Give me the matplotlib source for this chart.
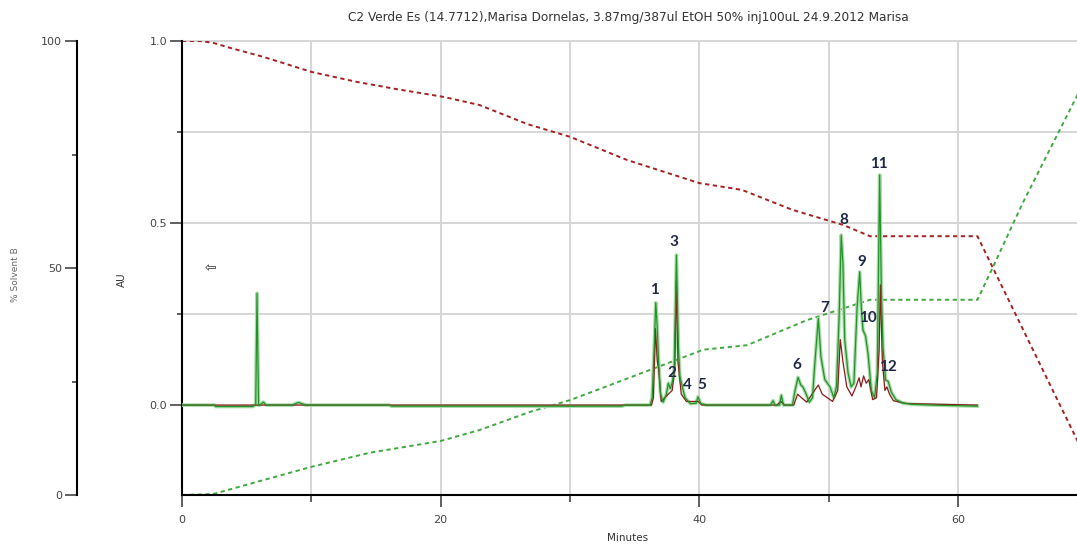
import matplotlib
matplotlib.use("Agg")
import matplotlib.pyplot as plt
from matplotlib.ticker import FixedLocator, FormatStrFormatter

# ---- chromatogram, detector channel 1 (green), minutes / AU ----
green_t = [0.0, 2.5, 2.6, 5.5, 5.6, 5.7, 5.8, 5.92, 6.0, 6.3, 6.5, 8.5, 9.0, 9.6,
           16.0, 16.2, 34.0, 34.3, 36.2, 36.35, 36.5, 36.63, 36.73, 36.85, 37.0,
           37.2, 37.45, 37.6, 37.75, 37.9, 38.05, 38.23, 38.38, 38.5, 38.72, 38.9,
           39.3, 39.75, 39.9, 40.1, 40.6, 45.5, 45.7, 45.85, 46.2, 46.34, 46.5,
           47.2, 47.4, 47.63, 47.85, 48.0, 48.2, 48.5, 48.75, 48.9, 49.2, 49.4,
           49.7, 50.1, 50.4, 50.6, 50.8, 50.97, 51.1, 51.24, 51.5, 51.74, 51.95,
           52.2, 52.4, 52.52, 52.65, 52.85, 53.04, 53.3, 53.55, 53.76, 53.94,
           54.07, 54.2, 54.4, 54.6, 54.85, 55.2, 55.7, 56.5, 58.0, 61.5]
green_au = [0.0, 0.0, -0.004, -0.004, 0.0, 0.0, 0.307, 0.0, 0.0, 0.008, 0.0, 0.0, 0.007, 0.0,
            0.0, -0.003, -0.003, 0.0, 0.0, 0.02, 0.15, 0.281, 0.225, 0.12, 0.03,
            0.008, 0.03, 0.06, 0.045, 0.062, 0.09, 0.412, 0.16, 0.078, 0.045, 0.02,
            0.004, 0.005, 0.023, 0.004, 0.0, 0.0, 0.012, 0.0, 0.0, 0.027, 0.0,
            0.0, 0.04, 0.076, 0.055, 0.05, 0.035, 0.008, 0.02, 0.1, 0.238, 0.133,
            0.07, 0.05, 0.02, 0.05, 0.233, 0.467, 0.39, 0.18, 0.088, 0.05, 0.06,
            0.27, 0.366, 0.27, 0.206, 0.19, 0.142, 0.04, 0.02, 0.088, 0.632,
            0.325, 0.16, 0.069, 0.065, 0.035, 0.015, 0.006, 0.002, 0.0, -0.003]

# ---- chromatogram, detector channel 2 (dark red) ----
red_t = [0.0, 36.3, 36.45, 36.6, 36.75, 36.85, 37.05, 37.6, 37.9, 38.1, 38.22, 38.35,
         38.6, 39.0, 39.9, 40.2, 46.0, 46.3, 46.6, 47.3, 47.6, 47.9, 48.3, 48.9,
         49.2, 49.5, 50.3, 50.7, 50.9, 51.1, 51.4, 51.8, 52.1, 52.35, 52.5, 52.7,
         52.9, 53.1, 53.4, 53.7, 53.9, 54.0, 54.15, 54.35, 54.5, 54.7, 55.0, 56.0,
         61.5]
red_au = [0.0, 0.0, 0.02, 0.21, 0.12, 0.1, 0.01, 0.03, 0.04, 0.1, 0.34, 0.12,
          0.03, 0.01, 0.01, 0.0, 0.0, 0.01, 0.0, 0.0, 0.03, 0.02, 0.008, 0.04,
          0.055, 0.03, 0.01, 0.04, 0.18, 0.12, 0.05, 0.025, 0.05, 0.075, 0.05, 0.08,
          0.06, 0.07, 0.015, 0.02, 0.15, 0.33, 0.12, 0.04, 0.05, 0.03, 0.012, 0.004,
          0.0]

# ---- solvent gradient program (%) ----
solvA_t = [0, 1.4, 2.4, 3.7, 6.3, 10, 13.5, 16.6, 20.2, 23, 26.7, 30, 34.4, 40,
           43.3, 47.2, 51.1, 53.2, 61.5, 69.5]
solvA_pct = [100, 100, 99.6, 98.5, 96.5, 93.2, 91.0, 89.4, 87.7, 85.9, 81.7, 78.9,
             73.8, 68.7, 67.2, 62.8, 59.5, 57.0, 57.0, 10.4]
solvB_t = [0, 2.4, 5.8, 10, 14.5, 20, 23, 26.9, 30, 34.1, 40.3, 43.7, 48.3, 53.2,
           61.5, 62.7, 65.0, 69.5]
solvB_pct = [0, 0.2, 2.9, 6.2, 9.3, 11.9, 14.3, 18.3, 20.9, 25.3, 32.0, 33.0, 38.5,
             43.0, 43.0, 50.2, 64.3, 89.6]

# ---- peak annotations ----
peak_labels = ["1", "2", "3", "4", "5", "6", "7", "8", "9", "10", "11", "12"]
peak_label_t = [36.5, 37.87, 38.0, 39.1, 40.2, 47.5, 49.7, 51.2, 52.55, 53.0, 53.86, 54.56]
peak_label_au = [0.316, 0.088, 0.448, 0.055, 0.055, 0.11, 0.267, 0.508, 0.393, 0.239, 0.662, 0.104]

title = "C2 Verde Es (14.7712),Marisa Dornelas, 3.87mg/387ul EtOH 50% inj100uL 24.9.2012 Marisa"

W, H = 1077, 544
fig = plt.figure(figsize=(W / 100, H / 100), dpi=100)
left, right, bottom, top = 182, 1077, 495, 41
ax = fig.add_axes([left / W, 1 - bottom / H, (right - left) / W, (bottom - top) / H])
ax2 = ax.twinx()
ax.set_zorder(2)
ax2.set_zorder(1)
ax.patch.set_visible(False)

ax.set_xlim(0, 69.2)
ax.set_ylim(-0.247, 1.0)
ax2.set_ylim(0, 100)

tick_col = "#444444"

# grid (drawn on the lower axes so traces sit above it)
grid_col = "#d6d6d6"
for gx in [10, 20, 30, 40, 50, 60]:
    ax2.axvline(gx, color=grid_col, lw=1.4, zorder=0)
for gy in [0.25, 0.5, 0.75, 1.0]:
    ax2.plot([0, 1], [gy, gy], transform=ax.get_yaxis_transform(),
             color=grid_col, lw=1.4, zorder=0, clip_on=False)

# gradient lines
ax2.plot(solvA_t, solvA_pct, color="#a52222", lw=1.4, ls=(0, (2.2, 1.8)), zorder=2)
ax2.plot(solvB_t, solvB_pct, color="#40aa40", lw=1.4, ls=(0, (2.2, 1.8)), zorder=2)

# chromatogram traces
ax.plot(green_t, green_au, color="#a8dca8", lw=2.6, zorder=3)
ax.plot(red_t, red_au, color="#8b1a1a", lw=0.9, zorder=4)
ax.plot(green_t, green_au, color="#24922a", lw=0.9, zorder=5)

for lab, tx, ty in zip(peak_labels, peak_label_t, peak_label_au):
    ax.text(tx, ty, lab, ha="center", va="center", fontsize=11, fontweight="bold",
            family="Lato", color="#202848", zorder=6)

ax.text(2.2, 0.376, "\u21e6", ha="center", va="center", fontsize=10, color="#333333",
        family="DejaVu Sans", zorder=6)

# AU axis
for s in ["top", "right"]:
    ax.spines[s].set_visible(False)
for s in ["left", "bottom"]:
    ax.spines[s].set_linewidth(1.5)
    ax.spines[s].set_color("black")
ax.yaxis.set_major_locator(FixedLocator([0.0, 0.5, 1.0]))
ax.yaxis.set_minor_locator(FixedLocator([0.25, 0.75]))
ax.yaxis.set_major_formatter(FormatStrFormatter("%.1f"))
ax.xaxis.set_major_locator(FixedLocator([0, 20, 40, 60]))
ax.xaxis.set_minor_locator(FixedLocator([10, 30, 50]))
ax.tick_params(axis="y", which="major", length=8.6, width=1.2, pad=2, colors=tick_col)
ax.tick_params(axis="y", which="minor", length=3.5, width=1.2, colors=tick_col)
ax.tick_params(axis="x", which="major", length=8.6, width=1.2, pad=6, colors=tick_col)
ax.tick_params(axis="x", which="minor", length=5, width=1.2, colors=tick_col)
for lbl in ax.get_xticklabels() + ax.get_yticklabels():
    lbl.set_fontfamily("DejaVu Sans")
    lbl.set_fontsize(8)

# percent axis on the far left
ax2.yaxis.tick_left()
ax2.yaxis.set_label_position("left")
for s in ["top", "right", "bottom"]:
    ax2.spines[s].set_visible(False)
ax2.spines["left"].set_visible(True)
ax2.spines["left"].set_position(("outward", 105 * 0.72))
ax2.spines["left"].set_linewidth(1.5)
ax2.yaxis.set_major_locator(FixedLocator([0, 50, 100]))
ax2.yaxis.set_minor_locator(FixedLocator([25, 75]))
ax2.tick_params(axis="y", which="major", length=8.6, width=1.2, pad=2, colors=tick_col)
ax2.tick_params(axis="y", which="minor", length=3.5, width=1.2, colors=tick_col)
for lbl in ax2.get_yticklabels():
    lbl.set_fontfamily("DejaVu Sans")
    lbl.set_fontsize(8)

fig.text(628 / W, 1 - 18 / H, title, ha="center", va="center",
         fontsize=8.7, color="#333333", family="DejaVu Sans")
fig.text(628 / W, 1 - 538 / H, "Minutes", ha="center", va="center", fontsize=7.5,
         color="#333333", family="DejaVu Sans")
fig.text(122 / W, 1 - 280 / H, "AU", ha="center", va="center", rotation=90,
         fontsize=7.5, color="#333333", family="DejaVu Sans")
fig.text(15 / W, 1 - 275 / H, "% Solvent B", ha="center", va="center", rotation=90,
         fontsize=6.5, color="#666666", family="DejaVu Sans")

fig.savefig("out.png", dpi=100)
